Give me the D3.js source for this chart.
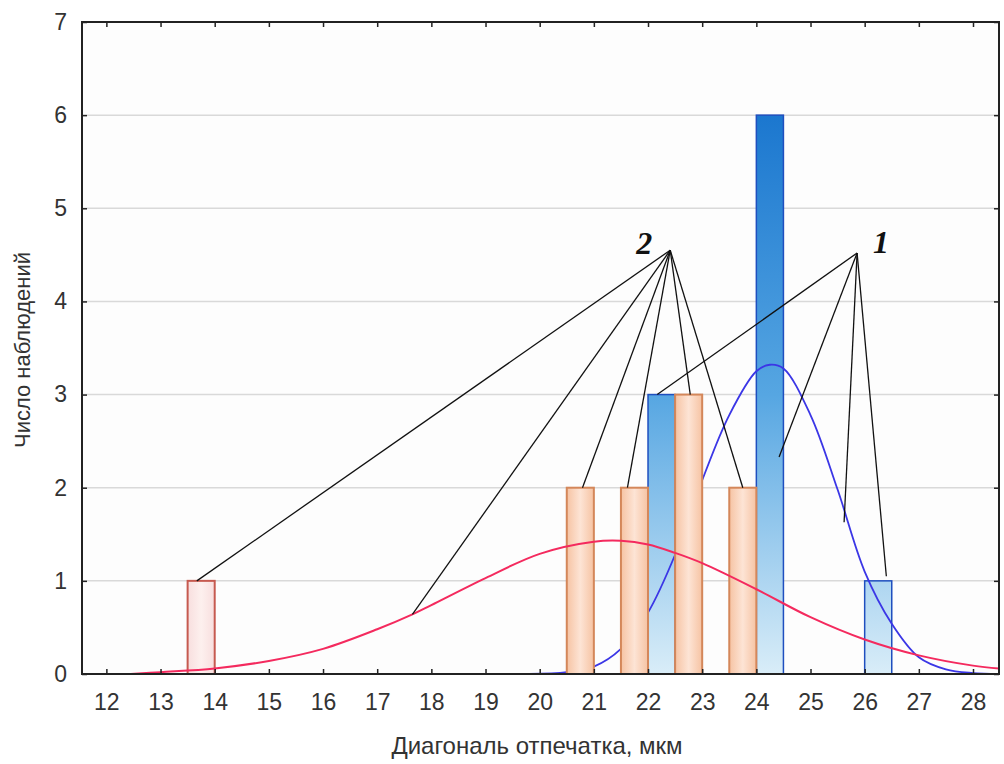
<!DOCTYPE html>
<html>
<head>
<meta charset="utf-8">
<script src="https://cdn.jsdelivr.net/npm/d3@7"></script>
<style>
  body { margin: 0; background: #fff; }
  svg { display: block; font-family: "Liberation Sans", Arial, sans-serif; }
</style>
</head>
<body>
<div id="chart"></div>
<script>
// Histogram bins (bin start, width 0.5) and counts
const binWidth = 0.5;
const blueStart = [22, 24, 26];
const blueCount = [3, 6, 1];
const orangeStart = [13.5, 20.5, 21.5, 22.5, 23.5];
const orangeCount = [1, 2, 2, 3, 2];

// Fitted curves
const redX = [12.45, 13, 14, 15, 16, 17, 17.65, 18, 19, 20, 21, 21.5, 22, 22.5, 23, 24, 25, 26, 27, 28, 28.48];
const redY = [0.0, 0.02, 0.06, 0.14, 0.27, 0.48, 0.64, 0.74, 1.03, 1.29, 1.42, 1.43, 1.39, 1.30, 1.19, 0.91, 0.61, 0.37, 0.20, 0.09, 0.06];
const blueX = [19.8, 20.5, 21, 21.5, 22, 22.5, 23, 23.5, 24, 24.25, 24.5, 25, 25.5, 26, 26.5, 27, 27.5, 28, 28.48];
const blueY = [0.0, 0.02, 0.08, 0.27, 0.66, 1.28, 2.08, 2.78, 3.25, 3.32, 3.28, 2.78, 1.98, 1.10, 0.54, 0.18, 0.05, 0.01, 0.0];

// Tick values
const xTicks = d3.range(12, 29);
const yTicks = d3.range(0, 8);

// Annotation leader lines: apex and targets in data units
const apex2 = [22.41, 4.55];
const targets2 = [[13.67, 1], [17.65, 0.64], [20.79, 2], [21.62, 2], [22.78, 3], [23.75, 2]];
const apex1 = [25.86, 4.52];
const targets1 = [[22.17, 3], [24.42, 2.33], [25.62, 1.63], [26.4, 1.05]];

const W = 1004, H = 764;
const mLeft = 82, mRight = 999, mTop = 22, mBottom = 674;

const svg = d3.select("#chart").append("svg")
  .attr("width", W)
  .attr("height", H);

const x = d3.scaleLinear().domain([11.55, 28.48]).range([mLeft, mRight]);
const y = d3.scaleLinear().domain([0, 7]).range([mBottom, mTop]);

const defs = svg.append("defs");

// blue gradient spans whole plot height, so short bars look lighter
const bg = defs.append("linearGradient")
  .attr("id", "blueGrad")
  .attr("gradientUnits", "userSpaceOnUse")
  .attr("x1", 0).attr("x2", 0)
  .attr("y1", y(6)).attr("y2", y(0));
bg.append("stop").attr("offset", "0").attr("stop-color", "#1b77cf");
bg.append("stop").attr("offset", "0.5").attr("stop-color", "#56a6e2");
bg.append("stop").attr("offset", "1").attr("stop-color", "#d9edf8");

const og = defs.append("linearGradient")
  .attr("id", "orangeGrad")
  .attr("x1", 0).attr("x2", 1).attr("y1", 0).attr("y2", 0);
og.append("stop").attr("offset", "0").attr("stop-color", "#f6c3a3");
og.append("stop").attr("offset", "0.5").attr("stop-color", "#fde4d5");
og.append("stop").attr("offset", "1").attr("stop-color", "#f6c3a3");

const pg = defs.append("linearGradient")
  .attr("id", "pinkGrad")
  .attr("x1", 0).attr("x2", 1).attr("y1", 0).attr("y2", 0);
pg.append("stop").attr("offset", "0").attr("stop-color", "#f8dede");
pg.append("stop").attr("offset", "0.5").attr("stop-color", "#fdf0ee");
pg.append("stop").attr("offset", "1").attr("stop-color", "#f8dede");

// plot background
svg.append("rect")
  .attr("x", mLeft).attr("y", mTop)
  .attr("width", mRight - mLeft).attr("height", mBottom - mTop)
  .attr("fill", "#fdfdfd");

// gridlines
svg.append("g")
  .selectAll("line")
  .data(yTicks.filter(d => d > 0 && d < 7))
  .join("line")
  .attr("x1", mLeft).attr("x2", mRight)
  .attr("y1", d => y(d)).attr("y2", d => y(d))
  .attr("stroke", "#d9d9d9")
  .attr("stroke-width", 1.5);

// blue bars
svg.append("g")
  .selectAll("rect")
  .data(blueStart.map((s, i) => ({ s, c: blueCount[i] })))
  .join("rect")
  .attr("x", d => x(d.s))
  .attr("y", d => y(d.c))
  .attr("width", d => x(d.s + binWidth) - x(d.s))
  .attr("height", d => y(0) - y(d.c))
  .attr("fill", "url(#blueGrad)")
  .attr("stroke", "#1f4fbf")
  .attr("stroke-width", 1.5);

const line = d3.line()
  .x(d => x(d[0]))
  .y(d => y(d[1]))
  .curve(d3.curveCatmullRom.alpha(0.5));

// blue curve
svg.append("path")
  .datum(blueX.map((v, i) => [v, blueY[i]]))
  .attr("d", line)
  .attr("fill", "none")
  .attr("stroke", "#3b36e6")
  .attr("stroke-width", 1.8);

// orange bars
svg.append("g")
  .selectAll("rect")
  .data(orangeStart.map((s, i) => ({ s, c: orangeCount[i] })))
  .join("rect")
  .attr("x", d => x(d.s))
  .attr("y", d => y(d.c))
  .attr("width", d => x(d.s + binWidth) - x(d.s))
  .attr("height", d => y(0) - y(d.c))
  .attr("fill", d => d.s < 15 ? "url(#pinkGrad)" : "url(#orangeGrad)")
  .attr("stroke", d => d.s < 15 ? "#c65a50" : "#d4875a")
  .attr("stroke-width", 2);

// red curve
svg.append("path")
  .datum(redX.map((v, i) => [v, redY[i]]))
  .attr("d", line)
  .attr("fill", "none")
  .attr("stroke", "#f42a5e")
  .attr("stroke-width", 2);

// frame
svg.append("rect")
  .attr("x", mLeft).attr("y", mTop)
  .attr("width", mRight - mLeft).attr("height", mBottom - mTop)
  .attr("fill", "none")
  .attr("stroke", "#222")
  .attr("stroke-width", 2);

// axes (ticks point inward)
const xAxisG = svg.append("g")
  .attr("transform", `translate(0,${mBottom})`)
  .call(d3.axisBottom(x).tickValues(xTicks).tickSizeInner(-5).tickSizeOuter(0).tickPadding(20));
const yAxisG = svg.append("g")
  .attr("transform", `translate(${mLeft},0)`)
  .call(d3.axisLeft(y).tickValues(yTicks).tickFormat(d3.format("d")).tickSizeInner(-5).tickSizeOuter(0).tickPadding(15));
svg.append("g")
  .attr("transform", `translate(0,${mTop})`)
  .call(d3.axisTop(x).tickValues(xTicks).tickSizeInner(-5).tickSizeOuter(0).tickFormat(""));
svg.append("g")
  .attr("transform", `translate(${mRight},0)`)
  .call(d3.axisRight(y).tickValues(yTicks).tickSizeInner(-5).tickSizeOuter(0).tickFormat(""));

svg.selectAll(".domain").remove();
svg.selectAll(".tick line").attr("stroke", "#222").attr("stroke-width", 1.5);
[xAxisG, yAxisG].forEach(g => g.selectAll("text")
  .attr("font-family", "'Liberation Sans', Arial, sans-serif")
  .attr("font-size", 23)
  .attr("fill", "#333"));

// axis titles
svg.append("text")
  .attr("x", 537).attr("y", 754)
  .attr("text-anchor", "middle")
  .attr("font-size", 24)
  .attr("fill", "#333")
  .text("Диагональ отпечатка, мкм");

svg.append("text")
  .attr("transform", "translate(30,350) rotate(-90)")
  .attr("text-anchor", "middle")
  .attr("font-size", 22)
  .attr("fill", "#333")
  .text("Число наблюдений");

// annotation leader lines
function leaders(apex, targets) {
  svg.append("g")
    .selectAll("line")
    .data(targets)
    .join("line")
    .attr("x1", x(apex[0])).attr("y1", y(apex[1]))
    .attr("x2", d => x(d[0])).attr("y2", d => y(d[1]))
    .attr("stroke", "#111")
    .attr("stroke-width", 1.3);
}
leaders(apex2, targets2);
leaders(apex1, targets1);

svg.append("text")
  .attr("x", x(apex2[0]) - 34).attr("y", y(apex2[1]) + 4)
  .attr("font-family", "'Liberation Serif', 'Times New Roman', serif")
  .attr("font-style", "italic")
  .attr("font-weight", "bold")
  .attr("font-size", 32)
  .attr("fill", "#111")
  .text("2");

svg.append("text")
  .attr("x", x(apex1[0]) + 16).attr("y", y(apex1[1]))
  .attr("font-family", "'Liberation Serif', 'Times New Roman', serif")
  .attr("font-style", "italic")
  .attr("font-weight", "bold")
  .attr("font-size", 32)
  .attr("fill", "#111")
  .text("1");
</script>
</body>
</html>
